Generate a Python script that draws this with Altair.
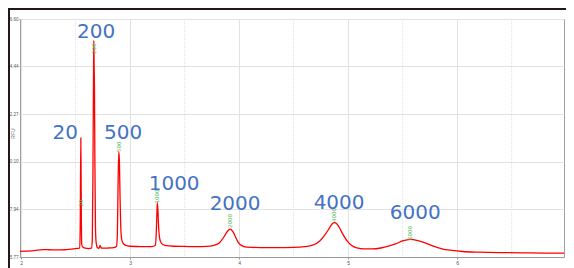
import altair as alt
import pandas as pd

# Electropherogram trace
trace_x = [1.99, 2.05, 2.12, 2.2, 2.26, 2.33, 2.40, 2.46, 2.52, 2.538, 2.543, 2.548, 2.552, 2.556,
           2.565, 2.59, 2.62, 2.645, 2.653, 2.659, 2.664, 2.667, 2.670, 2.673, 2.677, 2.682, 2.688,
           2.70, 2.715, 2.725, 2.735, 2.76, 2.80, 2.85, 2.875, 2.883, 2.889, 2.896, 2.902, 2.908,
           2.914, 2.922, 2.935, 2.96, 3.0, 3.1, 3.2, 3.232, 3.240, 3.246, 3.25, 3.255, 3.262, 3.272,
           3.29, 3.32, 3.4, 3.5, 3.6, 3.7, 3.77, 3.82, 3.86, 3.89, 3.917, 3.94, 3.965, 3.99, 4.02,
           4.07, 4.2, 4.35, 4.5, 4.6, 4.68, 4.74, 4.79, 4.83, 4.855, 4.874, 4.895, 4.92, 4.95, 4.99,
           5.03, 5.08, 5.15, 5.22, 5.30, 5.37, 5.44, 5.50, 5.569, 5.63, 5.70, 5.78, 5.86, 5.95,
           6.05, 6.2, 6.4, 6.6, 6.8, 6.98]
trace_y = [6.03, 6.04, 6.06, 6.11, 6.10, 6.09, 6.10, 6.13, 6.16, 6.18, 7.5, 11.19, 8.0, 6.35,
           6.22, 6.17, 6.15, 6.17, 6.5, 9.5, 13.8, 15.63, 14.5, 13.5, 10.0, 7.2, 6.45,
           6.2, 6.16, 6.3, 6.18, 6.17, 6.18, 6.20, 6.25, 6.8, 8.8, 10.56, 10.1, 8.4,
           7.2, 6.6, 6.4, 6.3, 6.26, 6.24, 6.24, 6.3, 6.9, 7.8, 8.24, 7.9, 7.1, 6.6,
           6.38, 6.3, 6.26, 6.25, 6.24, 6.25, 6.30, 6.42, 6.68, 6.92, 7.04, 6.95, 6.7, 6.45, 6.3,
           6.22, 6.20, 6.20, 6.21, 6.24, 6.32, 6.5, 6.8, 7.1, 7.28, 7.33, 7.28, 7.1, 6.82, 6.5,
           6.3, 6.18, 6.14, 6.14, 6.18, 6.26, 6.38, 6.5, 6.57, 6.53, 6.42, 6.26, 6.14, 6.07,
           6.02, 5.99, 5.97, 5.96, 5.95, 5.95]

# Size labels
sizes = ["20", "200", "500", "1000", "2000", "4000", "6000"]
label_x = [2.404, 2.688, 2.936, 3.404, 3.963, 4.917, 5.615]
label_y = [11.41, 15.99, 11.41, 9.09, 8.18, 8.22, 7.77]
# Small peak tags
peak_x = [2.548, 2.667, 2.896, 3.25, 3.917, 4.874, 5.569]
tag_y = [8.22, 15.25, 10.79, 8.52, 7.41, 7.68, 6.86]

y_ticks = [5.77, 7.94, 10.10, 12.27, 14.44, 16.60]
x_ticks = [2, 3, 4, 5, 6]
x_minor = [2.5, 3.5, 4.5, 5.5, 6.5]

trace = pd.DataFrame({"x": trace_x, "y": trace_y})
labels = pd.DataFrame({"size": sizes, "lx": label_x, "ly": label_y, "px": peak_x, "ty": tag_y})
minor = pd.DataFrame({"x": x_minor})

xs = alt.Scale(domain=[1.99, 6.98], nice=False, zero=False)
ys = alt.Scale(domain=[5.77, 16.60], nice=False, zero=False)

line = alt.Chart(trace).mark_line(color="#ff0000", strokeWidth=1.3, interpolate="monotone").encode(
    x=alt.X("x:Q", scale=xs, axis=alt.Axis(
        values=x_ticks, format="d", labelFontSize=5, labelColor="#555555", tickSize=2,
        tickColor="#999999", domainColor="#999999", labelPadding=1, gridColor="#e2e2e2",
        title=None)),
    y=alt.Y("y:Q", scale=ys, axis=alt.Axis(
        values=y_ticks, format=".2f", labelFontSize=4.5, labelColor="#555555", tickSize=1,
        tickColor="#999999", domain=False, labelPadding=1, gridColor="#e2e2e2",
        title="RFU", titleFontSize=5, titleFontWeight="normal", titleColor="#555555",
        titleX=-8, titleY=114, titleAngle=270, titleBaseline="middle", titleAlign="center")),
)

minor_grid = alt.Chart(minor).mark_rule(color="#e2e2e2", strokeWidth=1, strokeDash=[1, 1]).encode(
    x=alt.X("x:Q", scale=xs)
)

big = alt.Chart(labels).mark_text(
    font="DejaVu Sans", fontSize=20, color="#4472c4", align="center", baseline="middle"
).encode(x=alt.X("lx:Q", scale=xs), y=alt.Y("ly:Q", scale=ys), text="size:N")

tags = alt.Chart(labels).mark_text(
    font="DejaVu Sans", fontSize=5.5, color="#5cb85c", angle=270, align="center", baseline="middle"
).encode(x=alt.X("px:Q", scale=xs), y=alt.Y("ty:Q", scale=ys), text="size:N")

frame_top = alt.Chart(pd.DataFrame({"a": [0]})).mark_rule(color="#231815", strokeWidth=2).encode(
    x=alt.value(-12), x2=alt.value(546), y=alt.value(-10)
)
frame_left = alt.Chart(pd.DataFrame({"a": [0]})).mark_rule(color="#231815", strokeWidth=2).encode(
    x=alt.value(-11), y=alt.value(-11), y2=alt.value(252)
)

chart = alt.layer(minor_grid, line, tags, big, frame_top, frame_left).properties(
    width=544, height=238,
    autosize=alt.AutoSizeParams(type="none"),
    padding={"left": 12, "top": 11, "right": 2, "bottom": 11},
    background="white",
).configure_view(stroke="#a0a0a0", strokeWidth=1)

chart.save("out.html", embed_options={"renderer": "svg", "actions": False})
